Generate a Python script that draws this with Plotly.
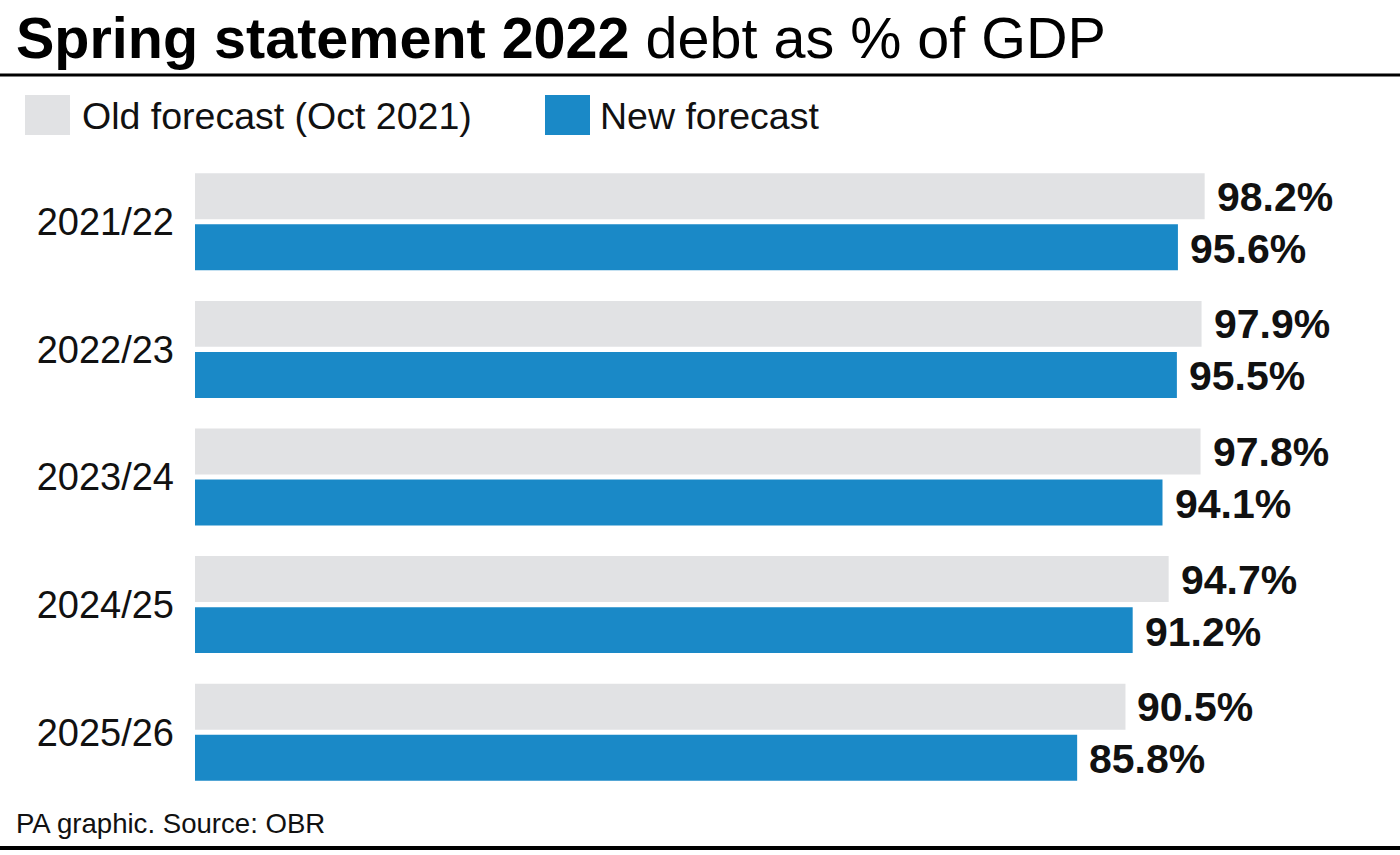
import plotly.graph_objects as go

W, H = 1400, 855

years = ["2021/22", "2022/23", "2023/24", "2024/25", "2025/26"]
old_forecast = [98.2, 97.9, 97.8, 94.7, 90.5]
new_forecast = [95.6, 95.5, 94.1, 91.2, 85.8]
series_names = ["Old forecast (Oct 2021)", "New forecast"]
title_bold = "Spring statement 2022"
title_rest = " debt as % of GDP"
source = "PA graphic. Source: OBR"

GREY = "#E1E2E4"
BLUE = "#1A89C7"
FONT = "Liberation Sans"

def px(x):
    return x / W

def py(y):
    return 1 - y / H

fig = go.Figure()
fig.add_trace(go.Bar(y=years, x=old_forecast, orientation="h", name=series_names[0],
                     marker=dict(color=GREY, line=dict(width=0)), showlegend=False,
                     hoverinfo="skip"))
fig.add_trace(go.Bar(y=years, x=new_forecast, orientation="h", name=series_names[1],
                     marker=dict(color=BLUE, line=dict(width=0)), showlegend=False,
                     hoverinfo="skip"))

annotations = []
for yr, v in zip(years, old_forecast):
    annotations.append(dict(x=v, y=yr, xref="x", yref="y", text=f"<b>{v:.1f}%</b>",
                            showarrow=False, xanchor="left", yanchor="middle",
                            xshift=10, yshift=25, font=dict(family=FONT, size=41, color="#111")))
for yr, v in zip(years, new_forecast):
    annotations.append(dict(x=v, y=yr, xref="x", yref="y", text=f"<b>{v:.1f}%</b>",
                            showarrow=False, xanchor="left", yanchor="middle",
                            xshift=10, yshift=-27, font=dict(family=FONT, size=41, color="#111")))

# title
annotations.append(dict(x=px(14), y=py(4), xref="paper", yref="paper", xanchor="left", yanchor="top",
                        text=f"<b>{title_bold}</b>{title_rest}", showarrow=False,
                        font=dict(family=FONT, size=57.5, color="#000")))
# legend texts
annotations.append(dict(x=px(80), y=py(116), xref="paper", yref="paper", xanchor="left", yanchor="middle",
                        text=series_names[0], showarrow=False,
                        font=dict(family=FONT, size=37.5, color="#111")))
annotations.append(dict(x=px(598), y=py(116), xref="paper", yref="paper", xanchor="left", yanchor="middle",
                        text=series_names[1], showarrow=False,
                        font=dict(family=FONT, size=37.5, color="#111")))
# source
annotations.append(dict(x=px(14), y=py(823), xref="paper", yref="paper", xanchor="left", yanchor="middle",
                        text=source, showarrow=False,
                        font=dict(family=FONT, size=27.6, color="#111")))

shapes = [
    dict(type="line", xref="paper", yref="paper", x0=0, x1=1, y0=py(75), y1=py(75),
         line=dict(color="#000", width=3)),
    dict(type="line", xref="paper", yref="paper", x0=0, x1=1, y0=py(848), y1=py(848),
         line=dict(color="#000", width=4)),
    dict(type="rect", xref="paper", yref="paper", x0=px(25), x1=px(70), y0=py(135), y1=py(95),
         fillcolor=GREY, line=dict(width=0)),
    dict(type="rect", xref="paper", yref="paper", x0=px(545), x1=px(590), y0=py(135), y1=py(95),
         fillcolor=BLUE, line=dict(width=0)),
]

fig.update_layout(
    width=W, height=H,
    margin=dict(l=0, r=0, t=0, b=0),
    paper_bgcolor="white", plot_bgcolor="white",
    barmode="group", bargap=0.2, bargroupgap=0.1,
    xaxis=dict(domain=[px(195), 1.0], range=[0, 117.2], visible=False, fixedrange=True),
    yaxis=dict(domain=[py(796), py(158)], autorange="reversed", showgrid=False, showline=False,
               ticks="", ticklabelstandoff=20, automargin=False,
               tickfont=dict(family=FONT, size=38, color="#111"), fixedrange=True),
    annotations=annotations,
    shapes=shapes,
    showlegend=False,
)

fig.write_html("out.html", config={"displayModeBar": False},
               post_script="document.body.style.margin='0';document.body.style.overflow='hidden';")
